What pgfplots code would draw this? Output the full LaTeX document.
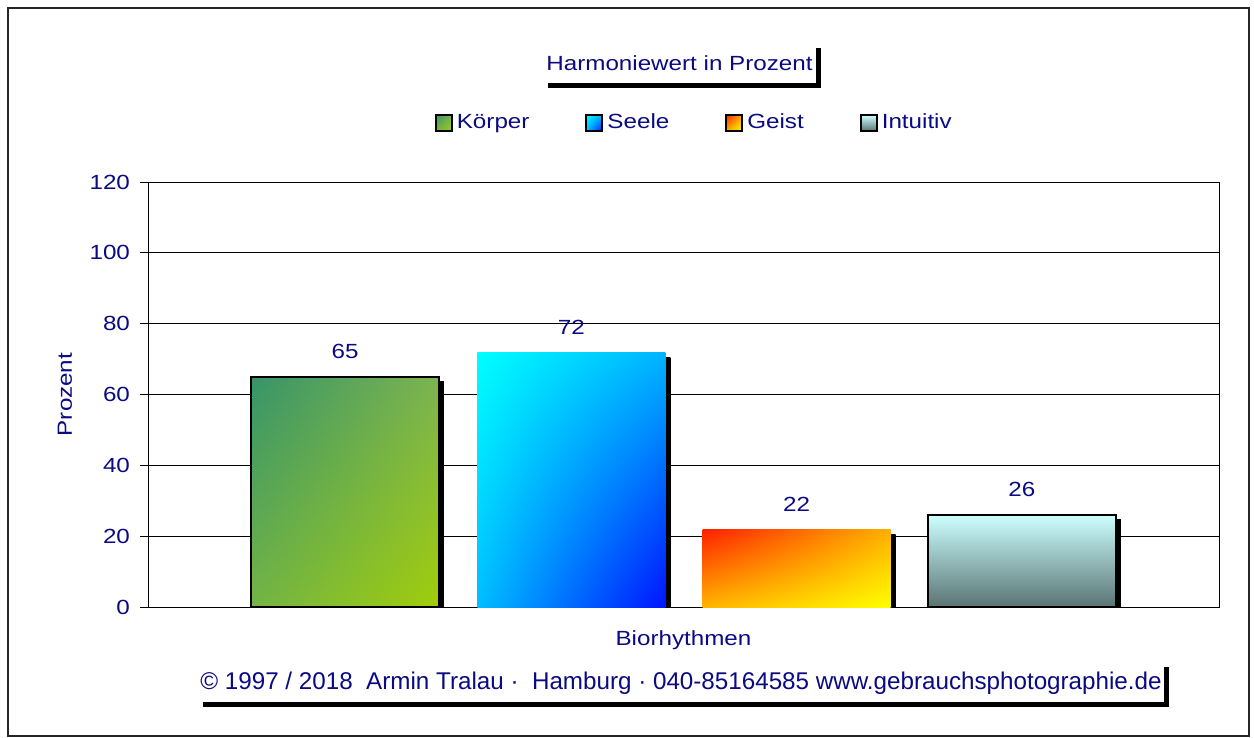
\documentclass[border=0pt]{standalone}
\usepackage{fontspec}
\setmainfont{Liberation Sans}[FakeStretch=1.18]
\newfontfamily\footfont{Liberation Sans}
\usepackage{pgfplots}
\pgfplotsset{compat=1.18}
\usetikzlibrary{shadows,shadings}
\pgfkeys{/pgf/number format/assume math mode=true}
\definecolor{navy}{RGB}{10,10,130}
\definecolor{kUL}{RGB}{55,148,105}
\definecolor{kUR}{RGB}{125,180,80}
\definecolor{kLL}{RGB}{115,180,70}
\definecolor{kLR}{RGB}{160,205,10}
\definecolor{sUL}{RGB}{0,255,255}
\definecolor{sUR}{RGB}{0,180,255}
\definecolor{sLL}{RGB}{0,190,255}
\definecolor{sLR}{RGB}{0,20,255}
\definecolor{gUL}{RGB}{255,30,0}
\definecolor{gUR}{RGB}{255,175,0}
\definecolor{gLL}{RGB}{255,180,0}
\definecolor{gLR}{RGB}{255,255,0}
\definecolor{iT}{RGB}{205,255,255}
\definecolor{iB}{RGB}{90,115,115}
\tikzset{
  shadowed/.style={drop shadow={shadow xshift=2.5pt,shadow yshift=-2.5pt,fill=black,opacity=1}},
  barshadow/.style={preaction={top color=black,bottom color=black,draw=none,transform canvas={xshift=2.5pt,yshift=-2.5pt}}},
  koerper/.style={upper left=kUL,upper right=kUR,lower left=kLL,lower right=kLR},
  seele/.style={upper left=sUL,upper right=sUR,lower left=sLL,lower right=sLR},
  geist/.style={upper left=gUL,upper right=gUR,lower left=gLL,lower right=gLR},
  intuitiv/.style={top color=iT,bottom color=iB},
}
\begin{document}
\begin{tikzpicture}[font=\fontsize{10.25pt}{12pt}\selectfont]
\begin{scope}[x=0.5pt,y=-0.5pt]
\path[use as bounding box] (0,0) rectangle (1254,738);
\draw[line width=1pt, black!85] (8,8) rectangle (1249,736);
\node[anchor=north west, fill=white, inner xsep=1.5pt, inner ysep=4pt, text height=9.5pt, text depth=2.5pt, text=navy, shadowed] at (543,43) {Harmoniewert in Prozent};
\node[anchor=north west, fill=white, inner xsep=1pt, inner ysep=5pt, text height=8.5pt, text depth=1.5pt, text=navy, shadowed, font=\footfont\fontsize{12.1pt}{14pt}\selectfont] at (198,662) {© 1997 / 2018\ \ Armin Tralau ·\ \ Hamburg · 040-85164585 www.gebrauchsphotographie.de};
\end{scope}
\begin{axis}[
  at={(74pt,-303.5pt)}, anchor=south west,
  width=535.5pt, height=212.5pt, scale only axis,
  xmin=-0.8743, xmax=3.8788, ymin=0, ymax=120,
  ytick={0,20,...,120}, xtick=\empty,
  ytick pos=left, tick align=outside, major tick length=4pt,
  ymajorgrids, grid style={black, line width=0.5pt},
  axis line style={black, line width=0.5pt},
  tick style={black, line width=0.5pt},
  yticklabel style={text=navy, xshift=-1.5pt},
  xlabel={Biorhythmen}, ylabel={Prozent},
  label style={text=navy},
  xlabel style={at={(axis description cs:0.5,-0.078)}, anchor=center},
  ylabel style={at={(axis description cs:-0.0775,0.5)}, anchor=center},
  legend columns=4,
  legend style={at={(axis description cs:0.511,1.1388)}, anchor=center, draw=none, fill=none, text=navy,
    /tikz/every even column/.append style={column sep=26pt}},
  legend image code/.code={\draw[#1] (0pt,-4pt) rectangle (8pt,4pt);},
  nodes near coords,
  every node near coord/.append style={text=navy, anchor=center, yshift=12.5pt},
]
\addplot[ybar, bar width=0.834, bar shift=0pt, forget plot, draw=black, line width=1pt, koerper, barshadow] coordinates {(0,65)};
\addplot[ybar, bar width=0.834, bar shift=0pt, forget plot, draw=none, seele, barshadow] coordinates {(1.0044,72)};
\addplot[ybar, bar width=0.834, bar shift=0pt, forget plot, draw=none, geist, barshadow] coordinates {(2.004,22)};
\addplot[ybar, bar width=0.834, bar shift=0pt, forget plot, draw=black, line width=1pt, intuitiv, barshadow] coordinates {(3.004,26)};
\addlegendimage{koerper, draw=black, line width=1pt}
\addlegendentry{Körper}
\addlegendimage{seele, draw=black, line width=1pt}
\addlegendentry{Seele}
\addlegendimage{geist, draw=black, line width=1pt}
\addlegendentry{Geist}
\addlegendimage{intuitiv, draw=black, line width=1pt}
\addlegendentry{Intuitiv}
\end{axis}
\end{tikzpicture}
\end{document}
